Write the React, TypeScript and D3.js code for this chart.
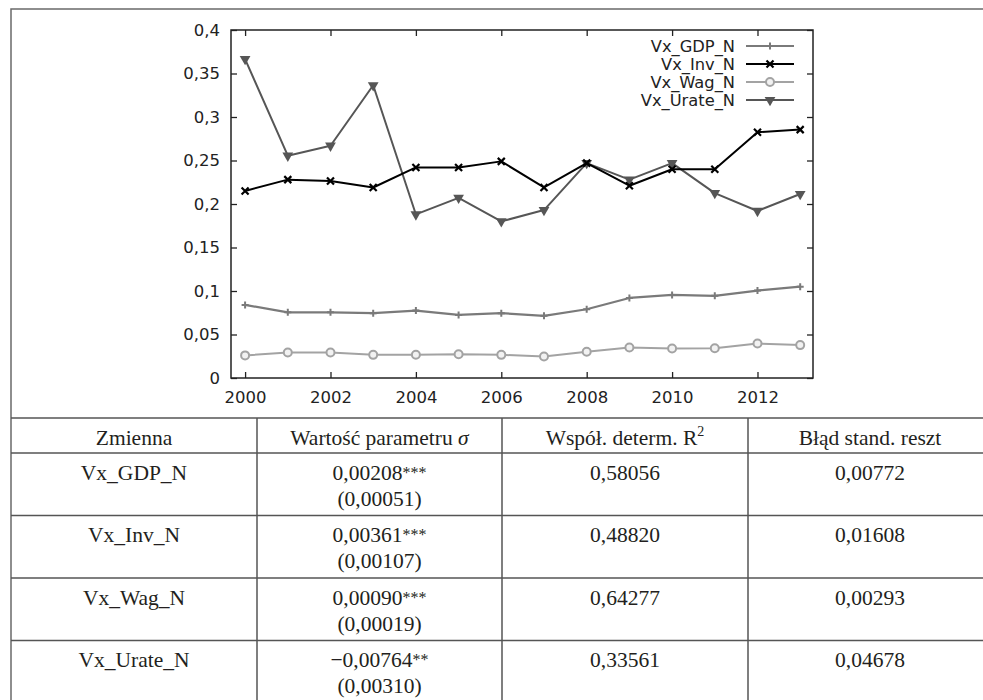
import React from 'react';
import { select, scaleLinear, axisLeft, axisBottom, axisTop, axisRight, line, symbol, symbolTriangle } from 'd3';

const years = [2000, 2001, 2002, 2003, 2004, 2005, 2006, 2007, 2008, 2009, 2010, 2011, 2012, 2013];
const gdp = [0.084, 0.0755, 0.0755, 0.0745, 0.0775, 0.0725, 0.0745, 0.0715, 0.079, 0.092, 0.0955, 0.0945, 0.1005, 0.105];
const inv = [0.215, 0.228, 0.2265, 0.219, 0.242, 0.242, 0.249, 0.219, 0.247, 0.221, 0.24, 0.24, 0.2825, 0.2855];
const wag = [0.026, 0.0293, 0.0293, 0.0266, 0.0268, 0.0274, 0.0266, 0.0247, 0.0302, 0.035, 0.034, 0.0342, 0.0397, 0.0378];
const urate = [0.3665, 0.2555, 0.267, 0.3365, 0.188, 0.207, 0.18, 0.193, 0.247, 0.228, 0.247, 0.2125, 0.192, 0.2115];

const seriesNames = ['Vx_GDP_N', 'Vx_Inv_N', 'Vx_Wag_N', 'Vx_Urate_N'];
const yTicks = [0, 0.05, 0.1, 0.15, 0.2, 0.25, 0.3, 0.35, 0.4];
const xTicks = [2000, 2002, 2004, 2006, 2008, 2010, 2012];

// table
const headers = ['Zmienna', 'Wartość parametru ', 'Współ. determ. R', 'Błąd stand. reszt'];
const paramValues = ['0,00208', '0,00361', '0,00090', '\u22120,00764'];
const paramStars = ['***', '***', '***', '**'];
const paramErrors = ['(0,00051)', '(0,00107)', '(0,00019)', '(0,00310)'];
const r2Values = ['0,58056', '0,48820', '0,64277', '0,33561'];
const residErrors = ['0,00772', '0,01608', '0,00293', '0,04678'];

const styles = [
    { color: '#7a7a7a', marker: 'plus', width: 2.2 },
    { color: '#000000', marker: 'cross', width: 2 },
    { color: '#a3a3a3', marker: 'circle', width: 2 },
    { color: '#565656', marker: 'triangle', width: 2 },
];

const dims = {
    left: 231, right: 813, top: 30, bottom: 378,
    frameLeft: 11, frameTop: 9,
    tableTop: 418, headerBottom: 453, rowHeight: 62.5,
    cols: [11, 257, 502, 748, 992],
};

const fmt = (d: number) => String(d).replace('.', ',');

const App: React.FC = () => {
    const ref = React.useRef<SVGSVGElement>(null);

    React.useEffect(() => {
        const svg = select(ref.current);
        svg.selectAll('*').remove();

        const x = scaleLinear().domain([1999.67, 2013.3]).range([dims.left, dims.right]);
        const y = scaleLinear().domain([0, 0.4]).range([dims.bottom, dims.top]);

        // outer frame
        svg.append('path')
            .attr('d', `M${dims.frameLeft},710 V${dims.frameTop} H990`)
            .attr('fill', 'none').attr('stroke', '#6a6a6a').attr('stroke-width', 1.5);

        const sans = 'DejaVu Sans, Verdana, sans-serif';

        const styleAxis = (g: any) => {
            g.select('.domain').remove();
            g.selectAll('line').attr('stroke', '#222').attr('stroke-width', 1.3);
            g.selectAll('text').attr('font-family', sans).attr('font-size', 16.5).attr('fill', '#222');
        };

        svg.append('g').attr('transform', `translate(${dims.left},0)`)
            .call(axisLeft(y).tickValues(yTicks).tickSizeInner(-6).tickSizeOuter(0).tickPadding(11).tickFormat((d: any) => fmt(d)))
            .call(styleAxis);
        svg.append('g').attr('transform', `translate(${dims.right},0)`)
            .call(axisRight(y).tickValues(yTicks).tickSizeInner(-6).tickSizeOuter(0).tickFormat(() => ''))
            .call(styleAxis);
        svg.append('g').attr('transform', `translate(0,${dims.bottom})`)
            .call(axisBottom(x).tickValues(xTicks).tickSizeInner(-6).tickSizeOuter(0).tickPadding(13).tickFormat((d: any) => String(d)))
            .call(styleAxis);
        svg.append('g').attr('transform', `translate(0,${dims.top})`)
            .call(axisTop(x).tickValues(xTicks).tickSizeInner(-6).tickSizeOuter(0).tickFormat(() => ''))
            .call(styleAxis);

        svg.append('rect')
            .attr('x', dims.left).attr('y', dims.top)
            .attr('width', dims.right - dims.left).attr('height', dims.bottom - dims.top)
            .attr('fill', 'none').attr('stroke', '#222').attr('stroke-width', 1.5);

        const drawMarker = (g: any, kind: string, cx: number, cy: number, color: string) => {
            if (kind === 'plus') {
                g.append('path').attr('d', `M${cx - 3.5},${cy} H${cx + 3.5} M${cx},${cy - 3.5} V${cy + 3.5}`)
                    .attr('stroke', color).attr('stroke-width', 2);
            } else if (kind === 'cross') {
                g.append('path').attr('d', `M${cx - 3.5},${cy - 3.5} L${cx + 3.5},${cy + 3.5} M${cx + 3.5},${cy - 3.5} L${cx - 3.5},${cy + 3.5}`)
                    .attr('stroke', color).attr('stroke-width', 2.2);
            } else if (kind === 'circle') {
                g.append('circle').attr('cx', cx).attr('cy', cy).attr('r', 4)
                    .attr('fill', '#f2f2f2').attr('stroke', color).attr('stroke-width', 2);
            } else {
                g.append('path').attr('d', symbol(symbolTriangle, 50)())
                    .attr('transform', `translate(${cx},${cy}) rotate(180)`)
                    .attr('fill', color);
            }
        };

        const allSeries = [gdp, inv, wag, urate];
        const drawOrder = [2, 0, 3, 1];
        const lineGen = line<number>().x((_, i) => x(years[i])).y(d => y(d));
        drawOrder.forEach(si => {
            const st = styles[si];
            const g = svg.append('g');
            g.append('path').attr('d', lineGen(allSeries[si])).attr('fill', 'none')
                .attr('stroke', st.color).attr('stroke-width', st.width).attr('stroke-linejoin', 'round');
            allSeries[si].forEach((v, i) => drawMarker(g, st.marker, x(years[i]), y(v), st.color));
        });

        // legend
        seriesNames.forEach((name, i) => {
            const st = styles[i];
            const ly = 46 + i * 18;
            const g = svg.append('g');
            g.append('text').attr('x', 735).attr('y', ly).attr('dy', '0.35em').attr('text-anchor', 'end')
                .attr('font-family', sans).attr('font-size', 16.3).attr('fill', '#222').text(name);
            g.append('line').attr('x1', 746).attr('x2', 794).attr('y1', ly).attr('y2', ly)
                .attr('stroke', st.color).attr('stroke-width', st.width);
            drawMarker(g, st.marker, 770, ly, st.color);
        });

        // table
        const serif = 'Liberation Serif, Times New Roman, serif';
        const tbl = svg.append('g');
        const rowLines = [dims.tableTop, dims.headerBottom];
        for (let r = 1; r <= 4; r++) rowLines.push(dims.headerBottom + r * dims.rowHeight);
        rowLines.forEach(ry => tbl.append('line').attr('x1', dims.frameLeft).attr('x2', 992)
            .attr('y1', ry).attr('y2', ry).attr('stroke', '#555').attr('stroke-width', 1.5));
        dims.cols.slice(1, 4).forEach(cx => tbl.append('line').attr('x1', cx).attr('x2', cx)
            .attr('y1', dims.tableTop).attr('y2', 710).attr('stroke', '#555').attr('stroke-width', 1.5));

        const colCenter = (c: number) => (dims.cols[c] + dims.cols[c + 1]) / 2;
        const cellText = (c: number, cy: number, txt: string) =>
            tbl.append('text').attr('x', colCenter(c)).attr('y', cy).attr('dy', '0.35em')
                .attr('text-anchor', 'middle').attr('font-family', serif).attr('font-size', 21.5)
                .attr('fill', '#231f20').text(txt);

        const hy = 437;
        cellText(0, hy, headers[0]);
        cellText(1, hy, headers[1]).append('tspan').attr('font-style', 'italic').text('σ');
        cellText(2, hy, headers[2]).append('tspan').attr('font-size', 14).attr('dy', '-0.6em').text('2');
        cellText(3, hy, headers[3]);

        seriesNames.forEach((name, r) => {
            const top = dims.headerBottom + r * dims.rowHeight;
            cellText(0, top + 19, name);
            cellText(1, top + 19, paramValues[r]).append('tspan')
                .attr('font-size', 16).attr('dy', '-0.1em').text(paramStars[r]);
            cellText(1, top + 45, paramErrors[r]);
            cellText(2, top + 19, r2Values[r]);
            cellText(3, top + 19, residErrors[r]);
        });
    }, []);

    return (
        <div style={{ position: 'absolute', left: 0, top: 0 }}>
            <svg ref={ref} width={983} height={700} style={{ display: 'block', background: 'white' }} />
        </div>
    );
};

export default App;
